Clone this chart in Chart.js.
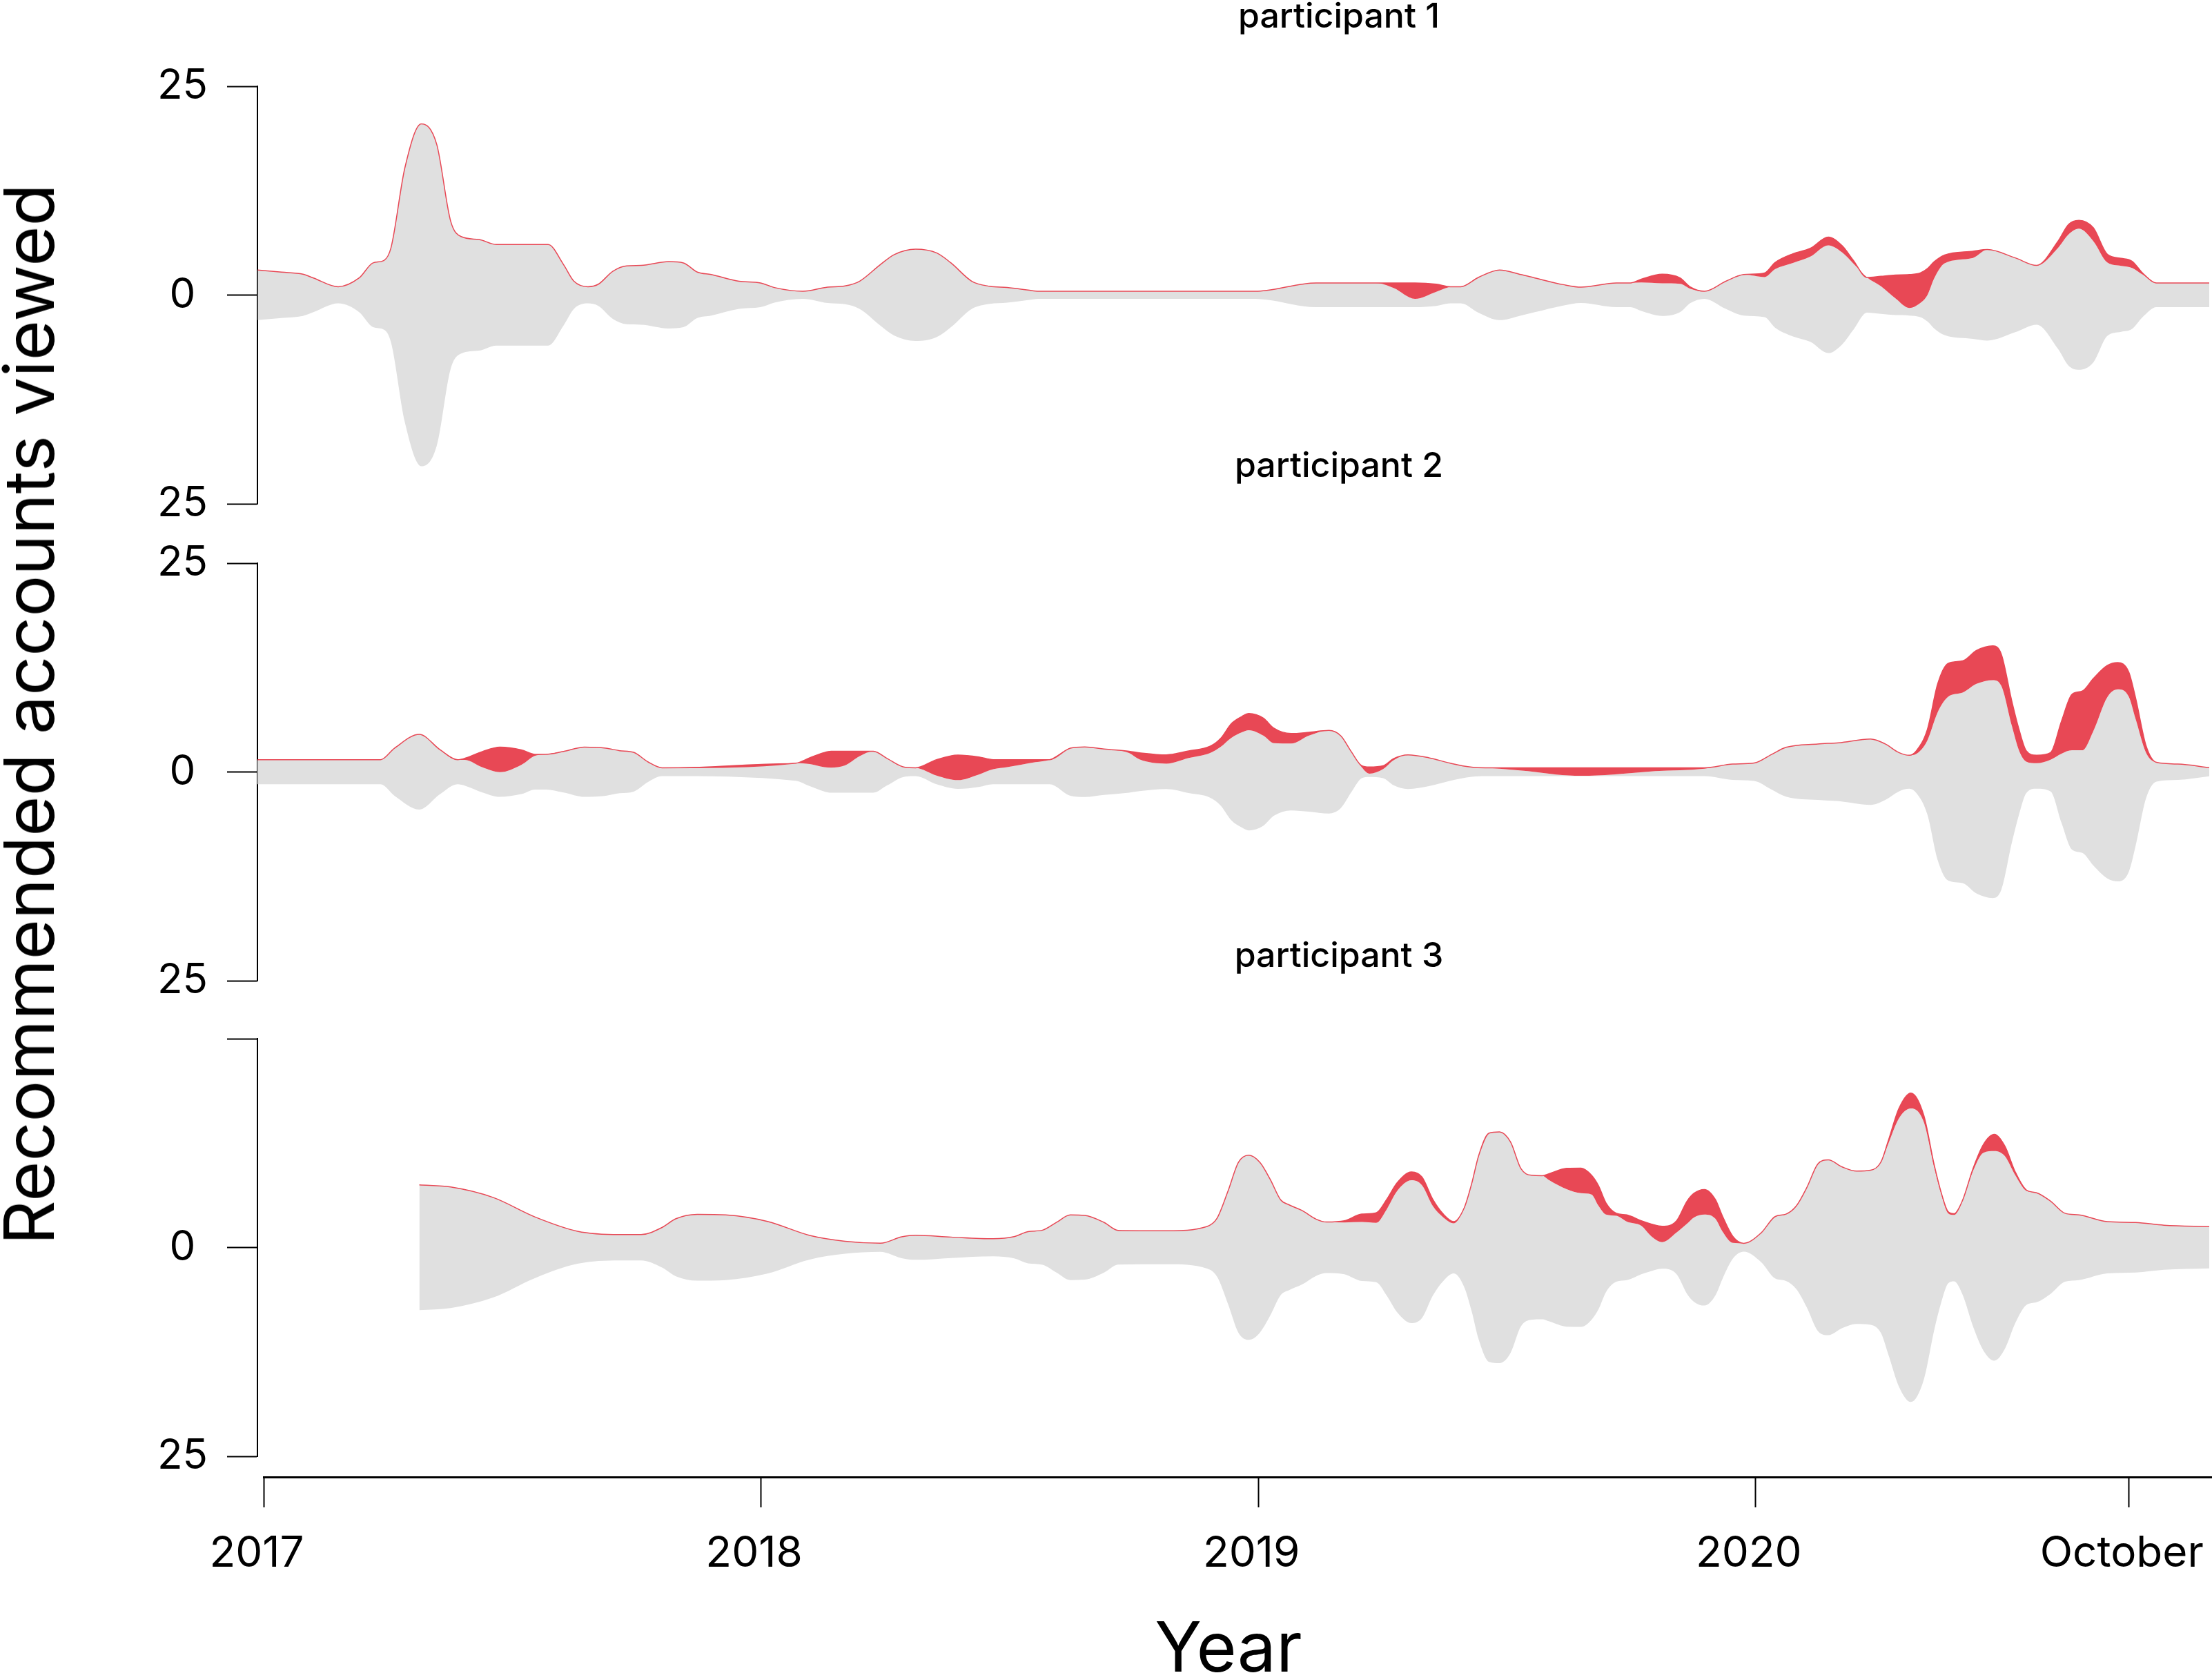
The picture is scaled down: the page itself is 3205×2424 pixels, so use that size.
<!DOCTYPE html>
<html>
<head>
<meta charset="utf-8">
<script src="https://cdn.jsdelivr.net/npm/chart.js@4.4.1/dist/chart.umd.min.js"></script>
<style>
html,body{margin:0;padding:0;background:#fff;}
#page{position:relative;width:3205px;height:2424px;overflow:hidden;background:#fff;font-family:Inter,"Noto Sans",sans-serif;color:#000;}
canvas{position:absolute;left:0;}
.ptitle{position:absolute;left:1940px;transform:translateX(-50%);font-size:50px;font-weight:500;line-height:50px;white-space:nowrap;}
#ytitle{position:absolute;left:42px;top:1035px;transform:translate(-50%,-50%) rotate(-90deg);font-size:100px;line-height:100px;white-space:nowrap;}
#xtitle{position:absolute;left:1780px;top:2336px;transform:translateX(-50%);font-size:100px;line-height:100px;white-space:nowrap;}
</style>
</head>
<body>
<div id="page">
  <canvas id="c1" width="3205" height="685" style="top:85px;width:3205px;height:685px"></canvas>
  <canvas id="c2" width="3205" height="685" style="top:776px;width:3205px;height:685px"></canvas>
  <canvas id="c3" width="3205" height="685" style="top:1465px;width:3205px;height:685px"></canvas>
  <canvas id="cx" width="3205" height="200" style="top:2100px;width:3205px;height:200px"></canvas>
  <div class="ptitle" style="top:-3px">participant 1</div>
  <div class="ptitle" style="top:648px">participant 2</div>
  <div class="ptitle" style="top:1358px">participant 3</div>
  <div id="ytitle">Recommended accounts viewed</div>
  <div id="xtitle">Year</div>
</div>
<script>
// ---------- data (time in decimal years) ----------
const p1Time = [2016.988,2017.036,2017.079,2017.100,2017.150,2017.192,2017.220,2017.242,2017.256,2017.284,2017.317,2017.348,2017.376,2017.397,2017.433,2017.468,2017.572,2017.603,2017.624,2017.652,2017.673,2017.702,2017.730,2017.759,2017.815,2017.844,2017.872,2017.900,2017.956,2017.999,2018.027,2018.084,2018.134,2018.169,2018.198,2018.240,2018.268,2018.311,2018.353,2018.382,2018.424,2018.460,2018.495,2018.537,2018.558,2018.995,2019.017,2019.116,2019.237,2019.272,2019.315,2019.358,2019.386,2019.407,2019.443,2019.485,2019.528,2019.556,2019.613,2019.649,2019.720,2019.748,2019.770,2019.812,2019.848,2019.869,2019.897,2019.940,2019.976,2020.018,2020.039,2020.075,2020.110,2020.146,2020.174,2020.196,2020.224,2020.252,2020.281,2020.309,2020.331,2020.345,2020.359,2020.380,2020.437,2020.466,2020.522,2020.565,2020.608,2020.629,2020.650,2020.679,2020.707,2020.735,2020.757,2020.778,2020.806,2020.912];
const p1Gray = [6.0,5.5,5.0,4.1,2.0,4.1,7.7,8.3,11.3,30.5,41.0,36.1,17.7,14.0,13.3,12.1,12.1,7.3,3.3,2.0,2.6,5.7,7.0,7.1,8.0,7.7,5.5,4.9,3.3,2.9,1.8,0.9,1.9,2.2,3.3,7.3,9.7,11.0,10.1,7.7,3.3,2.1,1.8,1.2,0.9,0.9,1.1,2.9,2.9,2.3,1.0,1.7,1.95,2.0,4.25,6.0,4.9,4.1,2.5,1.9,2.9,2.9,3.4,3.9,3.4,1.7,0.9,3.3,4.9,4.8,7.0,8.8,10.2,12.9,11.0,8.0,4.2,3.3,2.0,0.9,1.7,3.1,6.0,8.6,9.7,10.9,8.9,7.1,12.1,15.7,16.9,14.5,8.8,7.9,7.3,5.1,2.9,2.9];
const p1Red  = [0,0,0,0,0,0,0,0,0,0,0,0,0,0,0,0,0,0,0,0,0,0,0,0,0,0,0,0,0,0,0,0,0,0,0,0,0,0,0,0,0,0,0,0,0,0,0,0,0,0.6,1.9,0.9,0.05,0,0,0,0,0,0,0,0,0,0.4,1.1,0.7,0.2,0,0,0,0.5,0.8,1.1,1.0,1.0,0.8,0.4,0,1.2,2.8,4.0,3.6,3.2,2.0,1.0,0.8,0,0,0,0.8,1.2,1.0,1.6,1.0,0.9,0.8,0.2,0,0];

const p2Time = [2016.983,2017.235,2017.263,2017.313,2017.355,2017.390,2017.405,2017.440,2017.475,2017.518,2017.546,2017.567,2017.603,2017.645,2017.688,2017.716,2017.744,2017.773,2017.801,2018.070,2018.098,2018.127,2018.141,2018.169,2018.198,2018.226,2018.254,2018.290,2018.311,2018.353,2018.396,2018.438,2018.467,2018.495,2018.523,2018.552,2018.580,2018.622,2018.651,2018.690,2018.740,2018.761,2018.815,2018.860,2018.903,2018.924,2018.946,2018.967,2018.981,2019.010,2019.031,2019.066,2019.102,2019.142,2019.166,2019.187,2019.208,2019.223,2019.251,2019.272,2019.301,2019.343,2019.386,2019.429,2019.457,2019.485,2019.542,2019.599,2019.649,2019.713,2019.798,2019.897,2019.954,2019.997,2020.032,2020.061,2020.125,2020.167,2020.231,2020.260,2020.288,2020.309,2020.323,2020.345,2020.366,2020.387,2020.416,2020.444,2020.477,2020.494,2020.515,2020.530,2020.544,2020.565,2020.593,2020.615,2020.636,2020.657,2020.679,2020.707,2020.728,2020.750,2020.764,2020.785,2020.806,2020.849,2020.912];
const p2Gray = [2.95,2.95,5.7,9.0,5.3,2.95,3.1,3.0,2.95,3.5,4.05,4.2,4.9,5.95,5.7,5.1,4.7,2.4,1.0,2.1,2.65,2.9,3.0,3.25,4.35,4.95,3.2,1.1,1.0,1.05,1.05,1.5,1.8,2.05,2.35,2.65,2.95,5.7,6.0,5.5,4.75,3.8,3.05,4.2,5.35,7.0,9.9,11.4,12.0,10.8,8.7,8.0,9.1,9.95,8.65,4.85,1.3,0.4,1.1,3.0,4.1,3.4,2.1,1.15,1.0,0.9,0.6,0.2,0.05,0.2,0.6,0.9,1.9,2.15,4.2,5.9,6.7,7.0,7.9,6.75,4.65,4.0,4.7,8.8,17.7,22.0,22.8,25.1,26.1,24.4,14.05,7.5,3.8,3.05,3.8,8.3,11.9,12.3,16.1,21.7,23.0,21.05,15.2,5.45,2.3,1.9,1.05];
const p2Red  = [0,0,0,0,0,0,0.2,1.9,3.0,1.8,0.15,0,0,0,0,0,0,0,0,0,0.75,1.75,1.95,1.7,0.6,0,0,0,0,1.9,3.0,2.1,1.15,0.9,0.6,0.3,0,0,0,0,0.2,0.8,1.05,0.85,0.8,1.0,1.7,1.9,2.0,2.1,1.8,1.2,0.4,0,0,0,0.2,0.8,0.4,0.2,0,0,0,0,0,0.1,0.4,0.8,0.95,0.8,0.4,0.1,0,0,0,0,0,0,0,0,0,0,0.35,1.3,3.4,4.0,3.8,4.0,4.1,3.8,2.95,2.5,1.3,0.95,0.85,3.9,6.7,7.1,6.3,3.8,3.2,2.95,2.5,0.85,0,0,0];

const p3Time = [2017.313,2017.376,2017.461,2017.546,2017.631,2017.716,2017.759,2017.801,2017.829,2017.872,2017.929,2018.013,2018.098,2018.169,2018.240,2018.283,2018.311,2018.382,2018.467,2018.509,2018.537,2018.566,2018.594,2018.622,2018.651,2018.690,2018.718,2018.818,2018.896,2018.917,2018.939,2018.960,2018.981,2019.003,2019.024,2019.045,2019.062,2019.088,2019.116,2019.137,2019.173,2019.208,2019.237,2019.258,2019.279,2019.308,2019.329,2019.351,2019.372,2019.393,2019.414,2019.429,2019.443,2019.464,2019.485,2019.507,2019.528,2019.549,2019.571,2019.585,2019.620,2019.649,2019.670,2019.684,2019.699,2019.720,2019.741,2019.770,2019.791,2019.812,2019.841,2019.862,2019.876,2019.897,2019.919,2019.933,2019.954,2019.976,2020.011,2020.039,2020.061,2020.082,2020.103,2020.125,2020.146,2020.174,2020.203,2020.231,2020.252,2020.267,2020.288,2020.312,2020.338,2020.359,2020.373,2020.387,2020.399,2020.416,2020.437,2020.458,2020.480,2020.501,2020.522,2020.544,2020.565,2020.593,2020.622,2020.650,2020.707,2020.764,2020.821,2020.912];
const p3Gray = [15.0,14.5,12.0,7.3,3.9,3.1,3.1,4.8,6.9,7.95,7.8,6.25,2.9,1.5,1.03,2.55,2.95,2.5,2.1,2.6,3.8,4.15,6.0,7.8,7.7,6.0,4.1,4.0,5.0,7.0,13.5,20.4,22.1,20.4,16.3,11.4,10.2,8.85,6.8,6.1,6.2,7.05,7.1,10.3,14.5,17.1,15.9,10.7,7.6,6.0,9.5,15.3,22.0,27.4,27.7,25.3,18.9,17.3,17.2,16.9,16.45,16.0,15.0,12.4,9.3,7.9,7.0,5.8,4.1,3.2,5.0,8.4,10.1,10.9,9.2,5.75,1.9,1.0,3.5,7.4,8.0,10.0,14.4,20.0,21.0,19.3,18.3,18.5,20.5,25.3,32.1,35.15,30.9,19.5,13.0,8.4,7.95,11.3,18.6,23.7,25.1,23.1,17.7,13.7,13.1,11.1,8.2,7.8,6.2,6.0,5.35,5.0];
const p3Red  = [0,0,0,0,0,0,0,0,0,0,0,0,0,0,0,0,0,0,0,0,0,0,0,0,0,0,0,0,0,0,0,0,0,0,0,0,0,0,0,0,0.2,0.95,1.2,1.2,1.0,1.0,1.0,0.8,0.4,0.2,0,0,0,0,0,0,0,0,0,0.8,2.5,3.0,2.3,2.4,1.4,0.3,0.8,0.6,1.5,1.9,1.4,2.7,2.9,3.0,2.3,1.85,0.8,0,0,0,0,0,0,0,0,0,0,0,0,0.4,1.2,1.85,0.8,0.3,0.2,0.2,0.15,0,0.3,1.0,2.0,1.2,0.4,0.1,0,0,0,0,0,0,0,0];

const xTickValues = [2017, 2018, 2019, 2020, 2020.75];
const xTickLabels = ['2017', '2018', '2019', '2020', 'October'];
const yTickValues = [-25, 0, 25];
const yTickLabels = ['25', '0', '25'];
const yTickLabelsLast = ['25', '0', ''];

// ---------- styling ----------
const GRAY = '#E0E0E0';
const RED = 'rgb(232,72,85)';
const FONT = 'Inter, "Noto Sans", sans-serif';
const PX_PER_YEAR = 720.6;
const X0_PIX = 382;
const AXIS_LEFT = 373;
const XMAX = 2017 + (3205 - X0_PIX) / PX_PER_YEAR;
const XMIN_PANEL = 2017 - (X0_PIX - AXIS_LEFT) / PX_PER_YEAR;

function bands(times, gray, red) {
  const top = [], mid = [], bot = [];
  times.forEach((t, i) => {
    const total = gray[i] + red[i];
    top.push({x: t, y: total / 2});
    mid.push({x: t, y: total / 2 - red[i]});
    bot.push({x: t, y: -total / 2});
  });
  return {top, mid, bot};
}

function panel(id, times, gray, red, labels) {
  const b = bands(times, gray, red);
  new Chart(document.getElementById(id), {
    type: 'line',
    data: {
      datasets: [
        {data: b.top, fill: '+1', backgroundColor: RED, borderColor: RED, borderWidth: 1.5, pointRadius: 0},
        {data: b.mid, fill: '+1', backgroundColor: GRAY, borderColor: 'rgba(0,0,0,0)', borderWidth: 0, pointRadius: 0},
        {data: b.bot, fill: false, backgroundColor: GRAY, borderColor: 'rgba(0,0,0,0)', borderWidth: 0, pointRadius: 0}
      ]
    },
    options: {
      responsive: false, animation: false, devicePixelRatio: 1,
      layout: {padding: {top: 40, bottom: 40, left: 0, right: 0}},
      plugins: {legend: {display: false}, tooltip: {enabled: false}},
      elements: {line: {cubicInterpolationMode: 'monotone'}},
      scales: {
        x: {type: 'linear', min: XMIN_PANEL, max: XMAX, display: false},
        y: {
          min: -25, max: 25,
          afterFit(s) { s.width = AXIS_LEFT; s.paddingTop = 0; s.paddingBottom = 0; },
          afterBuildTicks(s) { s.ticks = yTickValues.map(v => ({value: v})); },
          ticks: {
            callback: (v, i) => labels[i],
            font: {family: FONT, size: 60}, color: '#000', padding: 28, crossAlign: 'center'
          },
          grid: {drawOnChartArea: false, tickLength: 44, tickColor: '#000', tickWidth: 2},
          border: {display: true, color: '#000', width: 2}
        }
      }
    }
  });
}

panel('c1', p1Time, p1Gray, p1Red, yTickLabels);
panel('c2', p2Time, p2Gray, p2Red, yTickLabels);
panel('c3', p3Time, p3Gray, p3Red, yTickLabelsLast);

new Chart(document.getElementById('cx'), {
  type: 'line',
  data: {datasets: []},
  options: {
    responsive: false, animation: false, devicePixelRatio: 1,
    layout: {padding: {left: X0_PIX, right: 0, top: 0, bottom: 0}},
    plugins: {legend: {display: false}, tooltip: {enabled: false}},
    scales: {
      x: {
        type: 'linear', min: 2017, max: XMAX, position: 'bottom',
        afterFit(s) { s.height = 160; s.paddingLeft = 0; s.paddingRight = 0; },
        afterBuildTicks(s) { s.ticks = xTickValues.map(v => ({value: v})); },
        ticks: {
          callback: (v, i) => xTickLabels[i],
          font: {family: FONT, size: 62}, color: '#000', padding: 30, labelOffset: -10,
          maxRotation: 0, autoSkip: false
        },
        grid: {drawOnChartArea: false, tickLength: 44, tickColor: '#000', tickWidth: 2},
        border: {display: true, color: '#000', width: 3}
      },
      y: {display: false}
    }
  }
});
</script>
</body>
</html>
